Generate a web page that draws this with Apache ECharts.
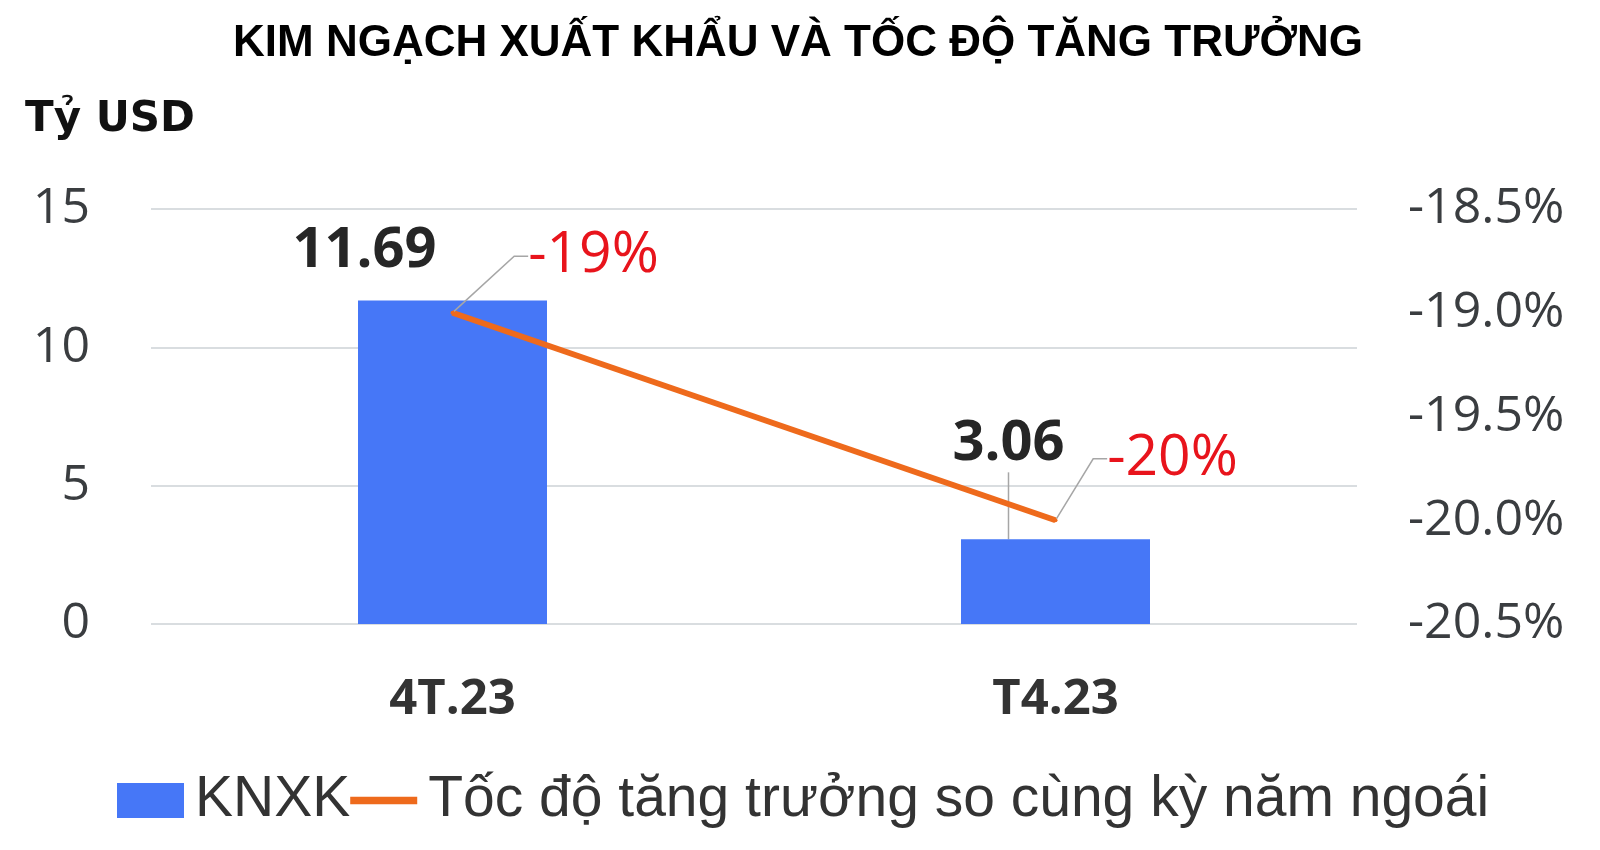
<!DOCTYPE html>
<html lang="vi">
<head>
    <meta charset="UTF-8">
    <title>Kim ngạch xuất khẩu</title>
    <style>
        html, body { margin: 0; padding: 0; background: #fff; }
        #container { width: 1600px; height: 850px; }
    </style>
</head>
<body>
    <div id="container"></div>
    <script src="https://cdn.jsdelivr.net/npm/echarts@6/dist/echarts.min.js"></script>
    <script>
        var categories = ['4T.23', 'T4.23'];
        var exportValues = [11.69, 3.06];          // Tỷ USD
        var growthRates = [-19.0, -20.0];          // % so cùng kỳ
        var growthLabels = ['-19%', '-20%'];

        var ec = echarts.init(document.querySelector('#container'));

        // offsets of the data labels relative to their marks
        var barLabelShift = [[-88, -17], [-47, -62]];
        var lineLabelShift = [[141, -21], [117, -26]];

        var numFont = '"Open Sans", "Noto Sans", sans-serif';

        var option = {
            backgroundColor: '#fff',
            animation: false,
            title: {
                text: 'KIM NGẠCH XUẤT KHẨU VÀ TỐC ĐỘ TĂNG TRƯỞNG',
                left: 793,
                textAlign: 'center',
                top: 17,
                textStyle: {
                    fontFamily: '"Liberation Sans", Arial',
                    fontSize: 44,
                    fontWeight: 'bold',
                    color: '#000'
                }
            },
            legend: {
                left: 112,
                top: 767,
                itemWidth: 67,
                itemHeight: 35,
                itemGap: 0,
                textStyle: {
                    fontFamily: '"Liberation Sans", Arial',
                    fontSize: 57,
                    color: '#333',
                    padding: [0, 0, 0, 6]
                },
                data: [
                    { name: 'KNXK', icon: 'rect' },
                    { name: 'Tốc độ tăng trưởng so cùng kỳ năm ngoái', icon: 'path://M0,0H71V8H0Z' }
                ]
            },
            grid: {
                left: 151,
                right: 243,
                top: 209,
                bottom: 226
            },
            xAxis: {
                type: 'category',
                data: categories,
                axisLine: { show: false },
                axisTick: { show: false },
                axisLabel: {
                    margin: 52,
                    fontFamily: numFont,
                    fontSize: 49,
                    fontWeight: 'bold',
                    color: '#333'
                }
            },
            yAxis: [{
                type: 'value',
                name: 'Tỷ USD',
                nameLocation: 'end',
                nameGap: 68,
                nameTextStyle: {
                    align: 'left',
                    padding: [0, 0, 0, -126],
                    fontFamily: '"DejaVu Sans", sans-serif',
                    fontSize: 42,
                    fontWeight: 'bold',
                    color: '#111'
                },
                min: 0,
                max: 15,
                interval: 5,
                axisLine: { show: false },
                axisTick: { show: false },
                axisLabel: {
                    margin: 61,
                    fontFamily: numFont,
                    fontSize: 50,
                    color: '#3a3d40'
                },
                splitLine: { lineStyle: { color: '#d9dde0', width: 2 } }
            }, {
                type: 'value',
                min: -20.5,
                max: -18.5,
                interval: 0.5,
                axisLine: { show: false },
                axisTick: { show: false },
                axisLabel: {
                    margin: 51,
                    fontFamily: numFont,
                    fontSize: 50,
                    color: '#3a3d40',
                    formatter: function (v) { return v.toFixed(1) + '%'; }
                },
                splitLine: { show: false }
            }],
            series: [{
                name: 'KNXK',
                type: 'bar',
                data: exportValues.map(function (v, i) {
                    // the first label sits right above its bar, no leader line
                    return { value: v, labelLine: { show: i > 0 } };
                }),
                barWidth: 189,
                itemStyle: { color: '#4677f7' },
                label: {
                    show: true,
                    position: 'top',
                    fontFamily: numFont,
                    fontSize: 56,
                    fontWeight: 'bold',
                    color: '#262626'
                },
                labelLine: {
                    show: true,
                    lineStyle: { color: '#a6a6a6', width: 1.5 }
                },
                labelLayout: function (p) {
                    var s = barLabelShift[p.dataIndex];
                    return { dx: s[0], dy: s[1] };
                }
            }, {
                name: 'Tốc độ tăng trưởng so cùng kỳ năm ngoái',
                type: 'line',
                yAxisIndex: 1,
                data: growthRates,
                symbol: 'circle',
                symbolSize: 4,
                itemStyle: { color: '#ee6a1c' },
                lineStyle: { color: '#ee6a1c', width: 6 },
                label: {
                    show: true,
                    position: 'top',
                    fontFamily: numFont,
                    fontSize: 57,
                    color: '#e8141c',
                    formatter: function (p) { return growthLabels[p.dataIndex]; }
                },
                labelLine: {
                    show: true,
                    length2: 14,
                    lineStyle: { color: '#a6a6a6', width: 1.5 }
                },
                labelLayout: function (p) {
                    var s = lineLabelShift[p.dataIndex];
                    return { dx: s[0], dy: s[1] };
                }
            }]
        };
        ec.setOption(option);
    </script>
</body>
</html>
